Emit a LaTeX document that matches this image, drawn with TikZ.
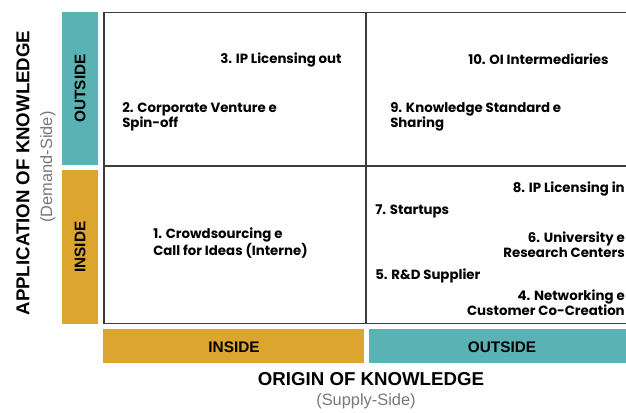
\documentclass[tikz,border=0pt]{standalone}
\usepackage{fontspec}
\setmainfont{Poppins}
\newfontfamily\axisFont{Liberation Sans}
\definecolor{oiTeal}{RGB}{91,178,180}
\definecolor{oiGold}{RGB}{219,165,48}
\definecolor{oiLine}{RGB}{60,60,60}
\definecolor{oiGrey}{RGB}{120,120,120}
\newcommand{\cellSize}[0]{\fontsize{10}{11.4}\selectfont}
\newcommand{\barSize}[0]{\fontsize{11.5}{13}\selectfont}
\newcommand{\noteSize}[0]{\fontsize{12.3}{14}\selectfont}
\newcommand{\titleSize}[0]{\fontsize{14}{16}\selectfont}
\begin{document}
\begin{tikzpicture}[x=0.75pt, y=-0.75pt]
  \tikzset{cell/.style={font=\cellSize\bfseries, inner sep=0pt},
    barlabel/.style={font=\axisFont\barSize\bfseries, inner sep=0pt},
    axistitle/.style={font=\axisFont\titleSize\bfseries, inner sep=0pt},
    axisnote/.style={font=\axisFont\noteSize, text=oiGrey, inner sep=0pt},
    grid/.style={draw=oiLine, line width=1.3pt}}
  \useasboundingbox (0,0) rectangle (626,412);
  \fill[oiTeal] (62,12) rectangle (98,165);
  \fill[oiGold] (62,170) rectangle (98,324);
  \fill[oiGold] (103,329) rectangle (364,363);
  \fill[oiTeal] (369,329) rectangle (630,363);
  \node[barlabel, rotate=90] (demandOut) at (80,88.5) {OUTSIDE};
  \node[barlabel, rotate=90] (demandIn) at (80,247) {INSIDE};
  \node[barlabel] (supplyIn) at (234,347) {INSIDE};
  \node[barlabel] (supplyOut) at (502,347) {OUTSIDE};
  \draw[grid] (104,12.5) rectangle (632,323.5);
  \draw[grid] (366,12.5) -- (366,323.5);
  \draw[grid] (104,166) -- (632,166);
  \node[cell, anchor=west] (ipOut) at (220,59.5) {3. IP Licensing out};
  \node[cell, anchor=west, align=left] (venture) at (122,117) {2. Corporate Venture e\\Spin-off};
  \node[cell, anchor=west] (intermed) at (468,59) {10. OI Intermediaries};
  \node[cell, anchor=west, align=left] (standard) at (390,117) {9. Knowledge Standard e\\Sharing};
  \node[cell, anchor=west, align=left] (crowd) at (153,243) {1. Crowdsourcing e\\Call for Ideas (Interne)};
  \node[cell, anchor=east] (ipIn) at (625,189) {8. IP Licensing in};
  \node[cell, anchor=west] (startups) at (375,211) {7. Startups};
  \node[cell, anchor=east, align=right] (univ) at (625,244.5) {6. University e\\Research Centers};
  \node[cell, anchor=west] (supplier) at (375,276) {5. R\&D Supplier};
  \node[cell, anchor=east, align=right] (network) at (625,302.5) {4. Networking e\\Customer Co-Creation};
  \node[axistitle] (origin) at (371,379) {ORIGIN OF KNOWLEDGE};
  \node[axisnote] (supplySide) at (366,401.5) {(Supply-Side)};
  \node[axistitle, rotate=90] (application) at (23,173) {APPLICATION OF KNOWLEDGE};
  \node[axisnote, rotate=90] (demandSide) at (48,167) {(Demand-Side)};
\end{tikzpicture}
\end{document}
